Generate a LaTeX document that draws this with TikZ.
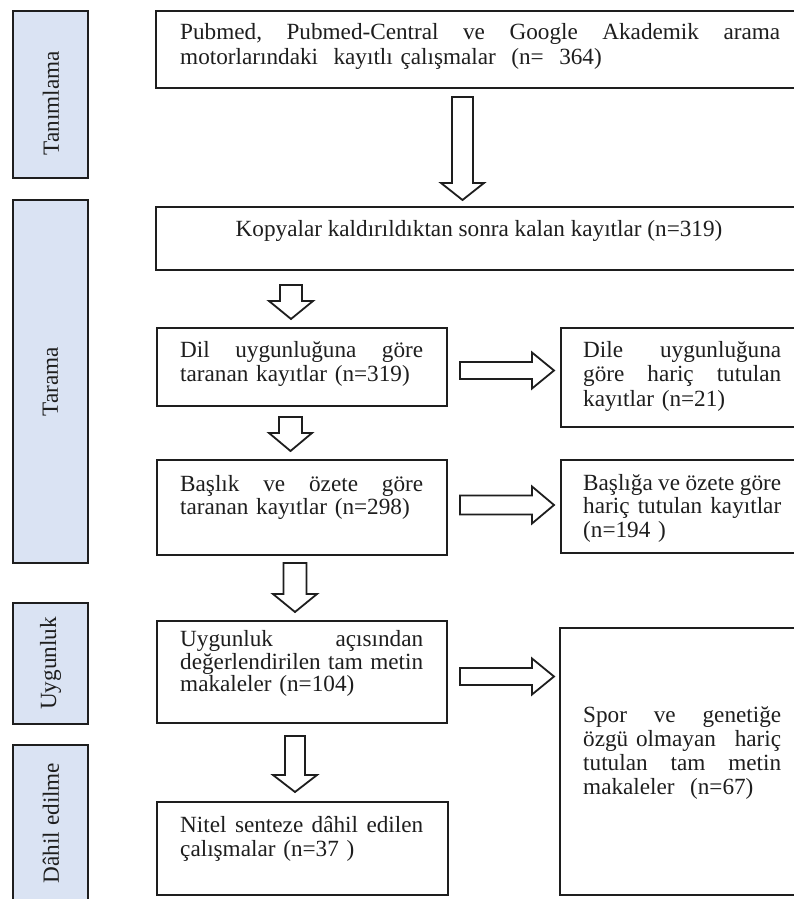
\documentclass[tikz,border=0pt]{standalone}
\usepackage{fontspec}
\setmainfont{Liberation Serif}
\definecolor{phasefill}{HTML}{DAE3F3}
\definecolor{ink}{HTML}{1E1E1E}
\newcommand\ff[1]{\fontsize{23.2}{#1}\selectfont}
\newcommand\jl[2]{\makebox[#1][l]{#2}}
\newcommand\gap{\hfill}
% vertical block arrow: cx, top, headstart, tip, shaft half, head half
\newcommand\vblk[6]{\draw[blk] (#1-#5,#2) -- (#1+#5,#2) -- (#1+#5,#3) -- (#1+#6,#3) -- (#1,#4) -- (#1-#6,#3) -- (#1-#5,#3) -- cycle;}
% horizontal block arrow: x0, headstart, tip, cy, shaft half, head half
\newcommand\hblk[6]{\draw[blk] (#1,#4-#5) -- (#2,#4-#5) -- (#2,#4-#6) -- (#3,#4) -- (#2,#4+#6) -- (#2,#4+#5) -- (#1,#4+#5) -- cycle;}
\begin{document}
\begin{tikzpicture}[x=1pt,y=-1pt,
  box/.style={draw=ink, line width=1.8pt, anchor=north west, inner sep=0pt, outer sep=0pt},
  phase/.style={box, fill=phasefill},
  phasetxt/.style={rotate=90, inner sep=0pt, text=ink, font=\ff{24}},
  txt/.style={anchor=north west, inner sep=0pt, text=ink, align=left},
  blk/.style={draw=ink, line width=1.8pt, fill=white, line join=miter}]
\useasboundingbox (0,0) rectangle (794,899);
\clip (0,0) rectangle (794,899);
\fill[white] (0,0) rectangle (794,899);

% phase boxes
\node[phase, minimum width=75pt, minimum height=167pt] (p1) at (13,11) {};
\node[phasetxt] (p1t) at (51,103) {Tanımlama};
\node[phase, minimum width=75pt, minimum height=363pt] (p2) at (13,200) {};
\node[phasetxt] (p2t) at (p2.center) {Tarama};
\node[phase, minimum width=75pt, minimum height=121pt] (p3) at (13,603) {};
\node[phasetxt] (p3t) at (p3.center) {Uygunluk};
\node[phase, minimum width=75pt, minimum height=160pt] (p4) at (13,745) {};
\node[phasetxt] (p4t) at (51,823) {Dâhil edilme};

% main boxes
\node[box, minimum width=646pt, minimum height=77pt] (b1) at (156,11) {};
\node[txt, text width=600pt, font=\ff{25}] (b1t) at (180,21.5) {\strut\jl{600pt}{Pubmed,\gap Pubmed-Central\gap ve\gap Google\gap Akademik\gap arama}\\motorlarındaki\ \ kayıtlı çalışmalar\ \ (n=\ \ 364)};

\node[box, minimum width=646pt, minimum height=63pt] (b2) at (156,207) {};
\node[anchor=base, inner sep=0pt, text=ink, font=\ff{24}] (b2t) at (479,236) {Kopyalar kaldırıldıktan sonra kalan kayıtlar (n=319)};

\node[box, minimum width=290pt, minimum height=78pt] (b3) at (157,328) {};
\node[txt, text width=243pt, font=\ff{24}] (b3t) at (180,340.2) {\strut\jl{243pt}{Dil\gap uygunluğuna\gap göre}\\taranan kayıtlar (n=319)};

\node[box, minimum width=290pt, minimum height=95pt] (b4) at (157,460) {};
\node[txt, text width=243pt, font=\ff{23.5}] (b4t) at (180,474.5) {\strut\jl{243pt}{Başlık\gap ve\gap özete\gap göre}\\taranan kayıtlar (n=298)};

\node[box, minimum width=290pt, minimum height=102pt] (b5) at (157,621) {};
\node[txt, text width=243pt, font=\ff{21.5}] (b5t) at (180,630) {\strut\jl{243pt}{Uygunluk\gap açısından}\\\jl{243pt}{değerlendirilen\gap tam\gap metin}\\makaleler (n=104)};

\node[box, minimum width=291pt, minimum height=93pt] (b6) at (157,802) {};
\node[txt, text width=243pt, font=\ff{22}] (b6t) at (180,816.6) {\strut\jl{243pt}{Nitel\gap senteze\gap dâhil\gap edilen}\\çalışmalar (n=37 )};

% right boxes
\node[box, minimum width=241pt, minimum height=99pt] (r1) at (561,328) {};
\node[txt, text width=199pt, font=\ff{24.5}] (r1t) at (583,339.9) {\strut\jl{198pt}{Dile\gap uygunluğuna}\\\jl{198pt}{göre\gap hariç\gap tutulan}\\kayıtlar (n=21)};

\node[box, minimum width=241pt, minimum height=93pt] (r2) at (561,460) {};
\node[txt, text width=199pt, font=\ff{23.5}] (r2t) at (583,473.5) {\strut\jl{198pt}{Başlığa\gap ve\gap özete\gap göre}\\\jl{198pt}{hariç\gap tutulan\gap kayıtlar}\\(n=194 )};

\node[box, minimum width=242pt, minimum height=267pt] (r3) at (560,628) {};
\node[txt, text width=199pt, font=\ff{24}] (r3t) at (583,705.2) {\strut\jl{198pt}{Spor\gap ve\gap genetiğe}\\\jl{198pt}{özgü olmayan\gap hariç}\\\jl{198pt}{tutulan\gap tam\gap metin}\\makaleler\ \ (n=67)};

% vertical block arrows
\vblk{462.5}{97}{183}{200}{10.5}{21.5}
\vblk{291}{285}{301}{319}{11}{22}
\vblk{290.5}{417}{433}{451}{11.5}{21.5}
\vblk{295}{563}{594}{612}{11.5}{22}
\vblk{295}{736}{775}{792}{10}{22}

% horizontal block arrows
\hblk{460}{532}{554}{370.5}{8.5}{18}
\hblk{460}{532}{554}{505}{9.5}{18.5}
\hblk{460}{532}{554}{676.5}{8.5}{18}
\end{tikzpicture}
\end{document}
